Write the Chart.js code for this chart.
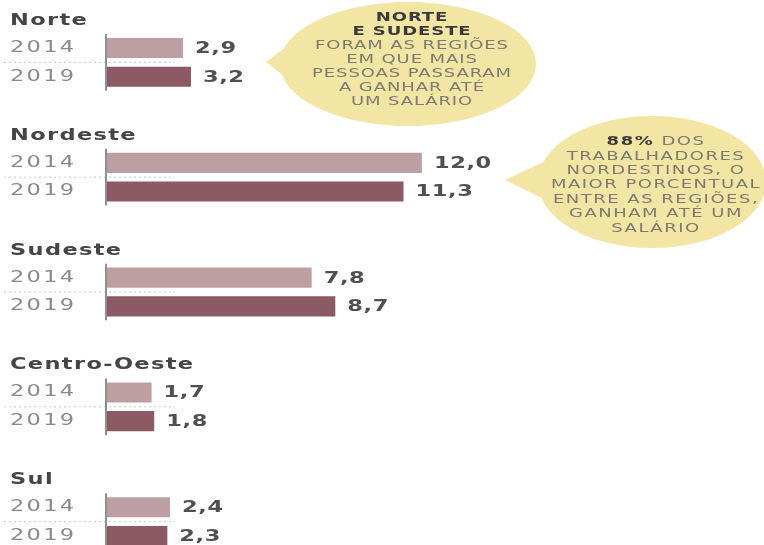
<!DOCTYPE html>
<html>
<head>
<meta charset="utf-8">
<script src="https://cdn.jsdelivr.net/npm/chart.js@4"></script>
<style>
    html, body { margin: 0; padding: 0; background: #ffffff; overflow: hidden; }
    #wrap { position: relative; width: 764px; height: 580px; }
</style>
</head>
<body>
<div id="wrap"><canvas id="salarioChart"></canvas></div>
<script>
const regioes = ['Norte', 'Nordeste', 'Sudeste', 'Centro-Oeste', 'Sul'];
const anos = ['2014', '2019'];
const valores2014 = [2.9, 12.0, 7.8, 1.7, 2.4];
const valores2019 = [3.2, 11.3, 8.7, 1.8, 2.3];
const coresAnos = ['#bd9fa3', '#8c5a64'];

const balao1 = [
    [{ t: 'NORTE', b: true }],
    [{ t: 'E SUDESTE', b: true }],
    [{ t: 'FORAM AS REGIÕES' }],
    [{ t: 'EM QUE MAIS' }],
    [{ t: 'PESSOAS PASSARAM' }],
    [{ t: 'A GANHAR ATÉ' }],
    [{ t: 'UM SALÁRIO' }]
];
const balao2 = [
    [{ t: '88%', b: true }, { t: ' DOS' }],
    [{ t: 'TRABALHADORES' }],
    [{ t: 'NORDESTINOS, O' }],
    [{ t: 'MAIOR PORCENTUAL' }],
    [{ t: 'ENTRE AS REGIÕES,' }],
    [{ t: 'GANHAM ATÉ UM' }],
    [{ t: 'SALÁRIO' }]
];

const SX = 1.5; // texto do original e mais largo
const FONTE = 'DejaVu Sans';

function txt(ctx, s, x, y, font, color, align, ls) {
    ctx.save();
    ctx.font = font;
    ctx.fillStyle = color;
    ctx.textAlign = align || 'left';
    ctx.textBaseline = 'middle';
    ctx.letterSpacing = (ls || 0) + 'px';
    ctx.translate(x, y);
    ctx.scale(SX, 1);
    ctx.fillText(s, 0, 0);
    ctx.restore();
}

function linhaMista(ctx, partes, cx, y, ls) {
    const fb = 'bold 12px ' + FONTE;
    const fr = '12px ' + FONTE;
    let total = 0;
    ctx.save();
    ctx.letterSpacing = ls + 'px';
    partes.forEach(p => {
        ctx.font = p.b ? fb : fr;
        p.w = ctx.measureText(p.t).width * SX;
        total += p.w;
    });
    ctx.restore();
    let x = cx - total / 2;
    partes.forEach(p => {
        txt(ctx, p.t, x, y, p.b ? fb : fr, p.b ? '#3a3a3a' : '#7d7a72', 'left', ls);
        x += p.w;
    });
}

function desenhaBalao(ctx, cx, cy, rx, ry, ponta, base1, base2, linhas, y0, passo, ls) {
    ctx.save();
    ctx.fillStyle = '#f3e5a3';
    ctx.beginPath();
    ctx.ellipse(cx, cy, rx, ry, 0, 0, Math.PI * 2);
    ctx.fill();
    ctx.beginPath();
    ctx.moveTo(ponta[0], ponta[1]);
    ctx.lineTo(base1[0], base1[1]);
    ctx.lineTo(base2[0], base2[1]);
    ctx.closePath();
    ctx.fill();
    ctx.restore();
    linhas.forEach((l, i) => linhaMista(ctx, l, cx + 4, y0 + i * passo, ls));
}

const rotulosPlugin = {
    id: 'rotulos',
    beforeDatasetsDraw(chart) {
        const ctx = chart.ctx;
        const m0 = chart.getDatasetMeta(0);
        const m1 = chart.getDatasetMeta(1);
        ctx.save();
        m0.data.forEach((b0, i) => {
            const b1 = m1.data[i];
            const meio = (b0.y + b1.y) / 2;
            ctx.strokeStyle = '#c8c8c8';
            ctx.lineWidth = 1;
            ctx.setLineDash([2, 3]);
            ctx.beginPath();
            ctx.moveTo(4, meio);
            ctx.lineTo(175, meio);
            ctx.stroke();
        });
        ctx.restore();

        desenhaBalao(ctx, 408, 64, 128, 62, [266, 62], [290, 44], [292, 82], balao1, 18, 14, 0.6);
        desenhaBalao(ctx, 652, 182, 114, 66, [505, 180], [548, 160], [550, 202], balao2, 142, 14.4, 1);
    },
    afterDatasetsDraw(chart) {
        const ctx = chart.ctx;
        const m0 = chart.getDatasetMeta(0);
        const m1 = chart.getDatasetMeta(1);
        m0.data.forEach((b0, i) => {
            const b1 = m1.data[i];
            // eixo curto de cada grupo
            ctx.save();
            ctx.strokeStyle = '#8f8f8f';
            ctx.lineWidth = 2;
            ctx.beginPath();
            ctx.moveTo(b0.base - 1, b0.y - 14);
            ctx.lineTo(b0.base - 1, b1.y + 14);
            ctx.stroke();
            ctx.restore();

            txt(ctx, regioes[i], 10, b0.y - 27, 'bold 15px ' + FONTE, '#454545', 'left', 0.9);
            [b0, b1].forEach((b, k) => {
                txt(ctx, anos[k], 10, b.y, '15px ' + FONTE, '#8a8a8a', 'left', 1.5);
                const v = chart.data.datasets[k].data[i];
                txt(ctx, v.toFixed(1).replace('.', ','), b.x + 12, b.y + 1, 'bold 15px ' + FONTE, '#505050', 'left', 0.4);
            });
        });
    }
};

const ctx = document.getElementById('salarioChart').getContext('2d');
const salarioChart = new Chart(ctx, {
    type: 'bar',
    data: {
        labels: regioes,
        datasets: [
            { label: anos[0], data: valores2014, backgroundColor: coresAnos[0] },
            { label: anos[1], data: valores2019, backgroundColor: coresAnos[1] }
        ]
    },
    options: {
        indexAxis: 'y',
        responsive: true,
        maintainAspectRatio: false,
        animation: false,
        categoryPercentage: 0.5,
        barPercentage: 0.7,
        layout: { padding: { left: 107, right: 1, top: 5, bottom: 1 } },
        scales: {
            x: { display: false, min: 0, max: 25 },
            y: { display: false }
        },
        plugins: {
            legend: { display: false },
            tooltip: { enabled: false }
        }
    },
    plugins: [rotulosPlugin]
});
</script>
</body>
</html>
